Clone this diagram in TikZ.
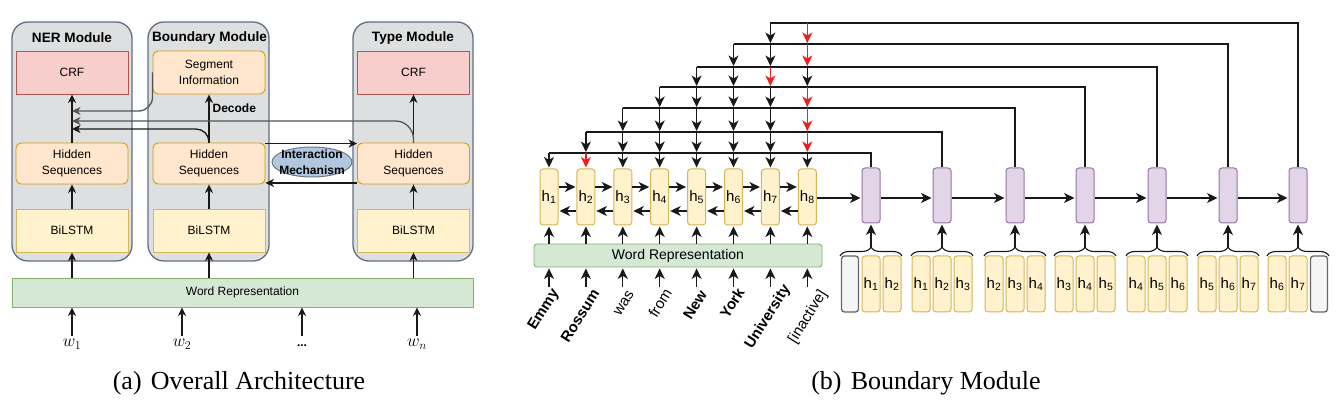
\documentclass[tikz,border=0pt]{standalone}
\usepackage{fontspec}
\setmainfont{Liberation Sans}
\newfontfamily\capfont{Liberation Serif}
\usetikzlibrary{arrows.meta,decorations.pathreplacing,shapes.geometric,calc}
\definecolor{contfill}{RGB}{221,223,225}
\definecolor{contdraw}{RGB}{98,110,128}
\definecolor{crffill}{HTML}{F8CECC}
\definecolor{crfdraw}{HTML}{B85450}
\definecolor{orfill}{HTML}{FFE6CC}
\definecolor{ordraw}{HTML}{D79B00}
\definecolor{yefill}{HTML}{FFF2CC}
\definecolor{yedraw}{HTML}{D6B656}
\definecolor{grfill}{HTML}{D5E8D4}
\definecolor{grdraw}{HTML}{82B366}
\definecolor{pufill}{HTML}{E1D5E7}
\definecolor{pudraw}{HTML}{9673A6}
\definecolor{gyfill}{HTML}{F5F5F5}
\definecolor{gydraw}{HTML}{666666}
\definecolor{elfill}{RGB}{177,199,222}
\definecolor{eldraw}{RGB}{110,120,135}
\definecolor{arrred}{RGB}{240,30,30}
\definecolor{lgray}{RGB}{85,85,85}
\definecolor{ink}{RGB}{25,25,25}
\newcommand\hcell[3]{%
  \if g#3\relax
    \node[gbox] (#1) at (#2,284) {};
  \else
    \node[hbox] (#1) at (#2,284) {h\textsubscript{#3}};
  \fi}
\begin{document}
\begin{tikzpicture}[x=1pt,y=-1pt,line width=1.3pt,draw=ink,
  aarr/.style={-{Stealth[length=8.5pt,width=8pt,inset=2.5pt]}},
  barr/.style={-{Stealth[length=10.5pt,width=10pt,inset=3pt]},shorten >=1pt},
  cont/.style={draw=contdraw,fill=contfill,rounded corners=16pt,line width=1.3pt,minimum height=239pt,inner sep=0pt},
  ttl/.style={font=\bfseries\fontsize{13.6}{16}\selectfont},
  txt/.style={font=\fontsize{12}{15.5}\selectfont,align=center,inner sep=0pt},
  crfbox/.style={txt,draw=crfdraw,fill=crffill,line width=0.9pt,minimum width=112pt,minimum height=43pt},
  hidbox/.style={txt,draw=ordraw,fill=orfill,line width=0.9pt,rounded corners=5pt,minimum width=112pt,minimum height=41pt},
  bibox/.style={txt,draw=yedraw,fill=yefill,line width=0.9pt,minimum width=112pt,minimum height=43pt},
  wrbox/.style={txt,draw=grdraw,fill=grfill,line width=0.9pt},
  inp/.style={font=\fontsize{17}{19}\selectfont,anchor=north,inner sep=1pt,text height=9pt,text depth=3pt},
  captxt/.style={font=\capfont\fontsize{26}{30}\selectfont},
  hbox/.style={draw=yedraw,fill=yefill,line width=1pt,rounded corners=3pt,minimum width=18pt,minimum height=56pt,inner sep=0pt,font=\fontsize{15}{17}\selectfont},
  pbox/.style={draw=pudraw,fill=pufill,line width=1pt,rounded corners=3pt,minimum width=18pt,minimum height=55pt,inner sep=0pt},
  gbox/.style={draw=gydraw,fill=gyfill,line width=1.3pt,rounded corners=3pt,minimum width=17pt,minimum height=56pt,inner sep=0pt},
  word/.style={font=\fontsize{15}{17}\selectfont,rotate=58,anchor=center,inner sep=0pt},
  brc/.style={decorate,decoration={brace,amplitude=9pt},line width=1.1pt},
]
\useasboundingbox (0,0) rectangle (1336,403);
% ---------------- (a) ----------------
\node[cont,minimum width=120pt] (nerc) at (72,141.5) {};
\node[cont,minimum width=121pt] (bndc) at (208.5,141.5) {};
\node[cont,minimum width=120pt] (typc) at (413,141.5) {};
\node[ttl] (nert) at (72,38) {NER Module};
\node[ttl] (bndt) at (209.5,38) {Boundary Module};
\node[ttl] (typt) at (413,38) {Type Module};
\node[crfbox] (nercrf) at (72,72.5) {CRF};
\node[hidbox,minimum height=43pt] (seg) at (209,72.5) {Segment\\Information};
\node[crfbox] (typcrf) at (413.5,72.5) {CRF};
\node[hidbox] (nerh) at (72,163.5) {Hidden\\Sequences};
\node[hidbox] (bndh) at (209,163.5) {Hidden\\Sequences};
\node[hidbox] (typh) at (413.5,163.5) {Hidden\\Sequences};
\node[bibox] (nerb) at (72,230.5) {BiLSTM};
\node[bibox] (bndb) at (209,230.5) {BiLSTM};
\node[bibox] (typb) at (413.5,230.5) {BiLSTM};
\node[wrbox,minimum width=461pt,minimum height=29pt] (wra) at (242.5,292.5) {Word Representation};
\node[ellipse,draw=eldraw,fill=elfill,line width=1pt,minimum width=80pt,minimum height=30pt,inner sep=0pt] (im) at (312,162) {};
\node[txt,font=\bfseries\fontsize{12}{15.5}\selectfont] (imt) at (im.center) {Interaction\\Mechanism};
\node[font=\bfseries\fontsize{12}{14}\selectfont,anchor=west,inner sep=0pt] (dec) at (212,108) {Decode};
\draw[aarr] (nerh.north) -- (nercrf.south);
\draw[aarr] (bndh.north) -- (seg.south);
\draw[aarr] (typh.north) -- (typcrf.south);
\draw[aarr] (nerb.north) -- (nerh.south);
\draw[aarr] (bndb.north) -- (bndh.south);
\draw[aarr] (typb.north) -- (typh.south);
\draw[aarr] (wra.north -| nerb) -- (nerb.south);
\draw[aarr] (wra.north -| bndb) -- (bndb.south);
\draw[aarr] (wra.north -| typb) -- (typb.south);
\draw[aarr,draw=lgray,rounded corners=14pt] (seg.west) -- (seg.west |- 0,111) -- (nerh |- 0,111);
\draw[aarr,draw=lgray,rounded corners=18pt] (typh.north) -- (typh.north |- 0,121) -- (nerh |- 0,121);
\draw[aarr,rounded corners=13pt] (bndh.north) -- (bndh.north |- 0,129) -- (nerh |- 0,129);
\draw[aarr] ([yshift=-1pt]bndh.north east) -- ([yshift=-1pt]typh.north west);
\draw[aarr] ([yshift=1.5pt]typh.south west) -- ([yshift=1.5pt]bndh.south east);
\node[inp] (w1) at (72,336) {$w_1$};
\node[inp] (w2) at (182,336) {$w_2$};
\node[inp,font=\bfseries\fontsize{12}{14}\selectfont] (wdots) at (302,336) {...};
\node[inp] (wn) at (417,336) {$w_n$};
\foreach \n in {w1,w2,wdots,wn} \draw[aarr] (\n.north) -- (\n.north |- wra.south);
\node[captxt] (capa) at (239,383) {(a)\hspace{0.35em}Overall Architecture};
% ---------------- (b) ----------------
\foreach \c in {1,...,8} \node[hbox] (h\c) at ({549+36.9*(\c-1)},197) {h\textsubscript{\c}};
\foreach \k/\px in {1/871,2/942,3/1015,4/1085,5/1157,6/1228,7/1298} \node[pbox] (p\k) at (\px,195.5) {};
\coordinate (R) at (0,187);
\coordinate (Q) at (0,211);
\coordinate (M) at (0,198);
\coordinate (W) at (0,287);
\coordinate (BR) at (0,256);
\foreach \k/\yy in {1/153,2/132,3/108,4/87,5/67,6/44,7/23} \coordinate (L\k) at (0,\yy);
\foreach \k in {1,...,7} \draw (h\k |- L\k) -- (p\k |- L\k) -- (p\k.north);
\foreach \k in {1,...,7}{
  \pgfmathtruncatemacro\km{\k-1}
  \foreach \c in {\k,...,8}{
    \pgfmathtruncatemacro\isred{((\c==8)&&(\k!=5)&&(\k!=1))||((\k==5)&&(\c==7))||((\k==1)&&(\c==2))}
    \ifnum\isred=1 \def\acol{arrred}\else\def\acol{ink}\fi
    \ifnum\k=1
      \draw[barr,draw=\acol] (h\c |- L\k) -- (h\c.north);
    \else
      \draw[barr,draw=\acol] (h\c |- L\k) -- (h\c |- L\km);
    \fi
  }
}
\foreach \c [evaluate=\c as \n using int(\c+1)] in {1,...,7}{
  \draw[barr] (h\c.east |- R) -- (h\n.west |- R);
  \draw[barr] (h\n.west |- Q) -- (h\c.east |- Q);
}
\draw[barr] (h8.east |- M) -- (p1.west |- M);
\foreach \k [evaluate=\k as \n using int(\k+1)] in {1,...,6} \draw[barr] (p\k.east |- M) -- (p\n.west |- M);
\node[wrbox,font=\fontsize{14}{16}\selectfont,minimum width=288pt,minimum height=23pt,rounded corners=3pt] (wrb) at (678,255.5) {Word Representation};
\foreach \c in {1,...,8} \draw[barr] (wrb.north -| h\c) -- (h\c.south);
\foreach \c/\w/\cx/\cy in {1/\textbf{Emmy}/544/310,2/\textbf{Rossum}/580/316,3/was/624/303,4/from/660/303,5/\textbf{New}/695/305,6/\textbf{York}/732/303,7/\textbf{University}/768/317,8/{[inactive]}/808/317}{
  \node[word] (wd\c) at (\cx,\cy) {\w};
  \draw[barr] (h\c |- W) -- (h\c |- wrb.south);
}
\foreach \k/\px/\la/\lb/\lc in {1/871/g/1/2,2/942/1/2/3,3/1015/2/3/4,4/1085/3/4/5,5/1157/4/5/6,6/1228/5/6/7,7/1298/6/7/g}{
  \hcell{b\k a}{\px-21}{\la}
  \hcell{b\k b}{\px}{\lb}
  \hcell{b\k c}{\px+21}{\lc}
  \draw[brc] ($(p\k |- BR)+(-31,0)$) -- ($(p\k |- BR)+(31,0)$);
  \draw[barr] ($(p\k |- BR)+(0,-9)$) -- (p\k.south);
}
\node[captxt] (capb) at (926,383) {(b)\hspace{0.35em}Boundary Module};
\end{tikzpicture}
\end{document}
